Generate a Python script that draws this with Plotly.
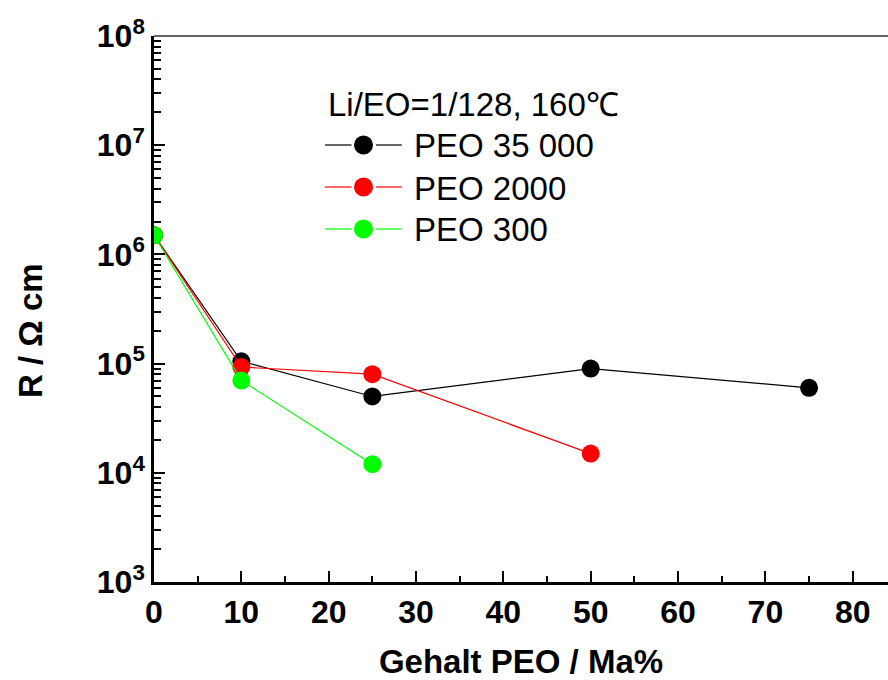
import plotly.graph_objects as go

# PEO content (mass %) and specific resistance R (Ohm cm)
x_35000 = [0, 10, 25, 50, 75]
r_35000 = [1.5e6, 1.05e5, 5.0e4, 9.0e4, 6.0e4]

x_2000 = [0, 10, 25, 50]
r_2000 = [1.5e6, 9.3e4, 8.0e4, 1.5e4]

x_300 = [0, 10, 25]
r_300 = [1.5e6, 7.0e4, 1.2e4]

series_names = ["PEO 35 000", "PEO 2000", "PEO 300"]
series_colors = ["#000000", "#ff0000", "#00ff00"]
series_x = [x_35000, x_2000, x_300]
series_y = [r_35000, r_2000, r_300]

legend_title = "Li/EO=1/128, 160℃"

y_tickvals = [1e3, 1e4, 1e5, 1e6, 1e7, 1e8]
y_ticktext = ["10<sup>3</sup>", "10<sup>4</sup>", "10<sup>5</sup>",
              "10<sup>6</sup>", "10<sup>7</sup>", "10<sup>8</sup>"]
x_tickvals = [0, 10, 20, 30, 40, 50, 60, 70, 80]

FONT = "Liberation Sans, Arial, sans-serif"
W, H = 888, 680
ML, MR, MT, MB = 154, 0, 36, 98
PW, PH = W - ML - MR, H - MT - MB


def px(x_pix):
    """page x pixel -> paper coordinate"""
    return (x_pix - ML) / PW


def py(y_pix):
    """page y pixel -> paper coordinate"""
    return (H - MB - y_pix) / PH


fig = go.Figure()
for name, xs, ys, color in zip(series_names, series_x, series_y, series_colors):
    fig.add_trace(go.Scatter(
        x=xs, y=ys, name=name, mode="lines+markers",
        line=dict(color=color, width=1.2),
        marker=dict(color=color, size=18, line=dict(width=0)),
        showlegend=False,
    ))

fig.update_layout(
    width=W, height=H,
    margin=dict(l=ML, r=MR, t=MT, b=MB),
    paper_bgcolor="white", plot_bgcolor="white",
    font=dict(family=FONT, color="black"),
    showlegend=False,
    xaxis=dict(
        range=[0, 84.04], tickvals=x_tickvals,
        showgrid=False, zeroline=False,
        showline=True, linecolor="black", linewidth=2.5,
        ticks="inside", ticklen=11, tickwidth=2, tickcolor="black",
        minor=dict(ticks="inside", ticklen=6, tickwidth=2, tickcolor="black", dtick=5),
        tickfont=dict(size=32, family=FONT, weight="bold"),
        title=dict(text="Gehalt PEO / Ma%", font=dict(size=33, family=FONT, weight="bold"),
                   standoff=23),
    ),
    yaxis=dict(
        type="log", range=[3, 8],
        tickvals=y_tickvals, ticktext=y_ticktext,
        showgrid=False, zeroline=False,
        showline=True, linecolor="black", linewidth=2.5,
        ticks="inside", ticklen=11, tickwidth=2, tickcolor="black",
        minor=dict(ticks="inside", ticklen=7, tickwidth=2, tickcolor="black", dtick="D1"),
        tickfont=dict(size=32, family=FONT, weight="bold"),
    ),
)

# y-axis title, placed a little below the middle of the axis
fig.add_annotation(
    text="R / Ω cm", xref="paper", yref="paper", x=px(30), y=py(331),
    xanchor="center", yanchor="middle", textangle=-90, showarrow=False,
    font=dict(size=33, family=FONT, weight="bold", color="black"),
)

# thin grey frame line along the top of the plotting area
fig.add_shape(type="line", xref="paper", yref="paper", x0=0, x1=1, y0=1, y1=1,
              line=dict(color="#666666", width=2))

# legend block: title, then line-marker-line symbol and label per series
fig.add_annotation(
    text=legend_title, xref="paper", yref="paper", x=px(326), y=py(104),
    xanchor="left", yanchor="middle", showarrow=False,
    font=dict(size=33, family=FONT, color="black"),
)
row_y = [145, 187, 229]
for name, color, ry in zip(series_names, series_colors, row_y):
    for x0, x1 in [(325, 351.5), (376, 401.7)]:
        fig.add_shape(type="line", xref="paper", yref="paper",
                      x0=px(x0), x1=px(x1), y0=py(ry), y1=py(ry),
                      line=dict(color=color, width=1.2))
    fig.add_shape(type="circle", xref="paper", yref="paper",
                  xsizemode="pixel", ysizemode="pixel",
                  xanchor=px(363.5), yanchor=py(ry),
                  x0=-9.5, x1=9.5, y0=-9.5, y1=9.5,
                  fillcolor=color, line=dict(width=0))
    fig.add_annotation(
        text=name, xref="paper", yref="paper", x=px(412), y=py(ry + 1),
        xanchor="left", yanchor="middle", showarrow=False,
        font=dict(size=33, family=FONT, color="black"),
    )

fig.write_html("out.html")
